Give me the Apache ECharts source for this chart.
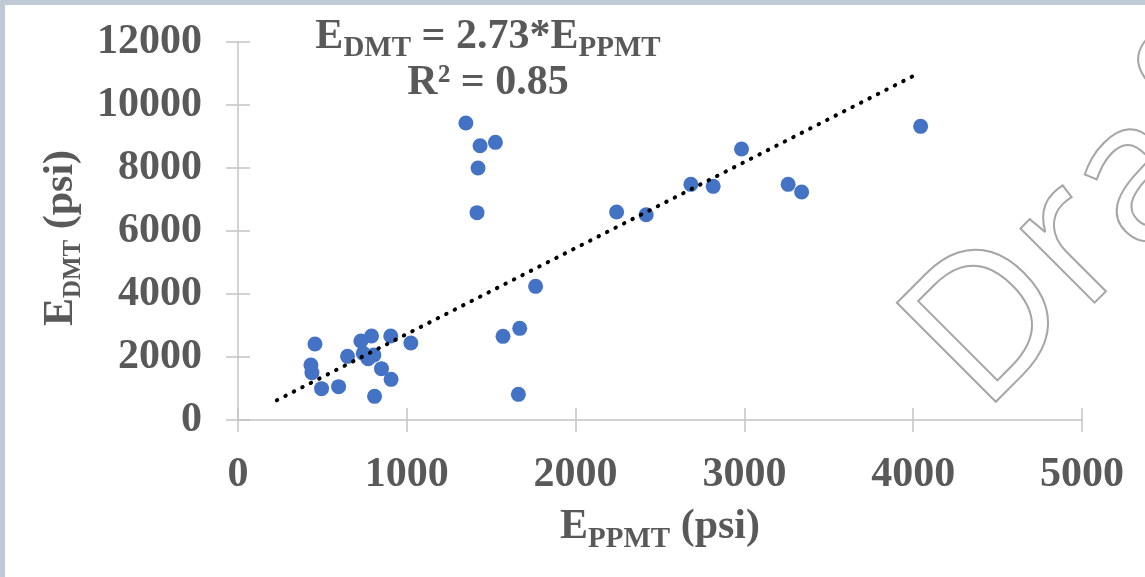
<!DOCTYPE html>
<html><head><meta charset="utf-8">
<script src="https://cdn.jsdelivr.net/npm/echarts@6/dist/echarts.min.js"></script>
<style>
html,body{margin:0;padding:0;background:#bfcad6;}
#bg{position:absolute;left:5px;top:5px;width:1140px;height:572px;background:#ffffff;}
#c{position:absolute;left:0;top:0;width:1145px;height:577px;}
</style>
</head><body>
<div id="bg"></div>
<div id="c"></div>
<script>
// ---- data ----
const eppmt = [1350, 1434, 1525, 1422, 1416, 2243, 1763, 1669, 1570, 1661, 1024, 905, 791, 728, 456, 649, 742, 805, 771, 432, 438, 850, 907, 495, 596, 809, 4044, 2983, 2683, 2815, 3259, 3339, 2418];
const edmt  = [9430, 8708, 8815, 8000, 6582, 6603, 4243, 2910, 2656, 815, 2444, 2667, 2667, 2508, 2413, 2021, 2116, 2063, 1947, 1746, 1503, 1630, 1291, 995, 1058, 751, 9323, 8603, 7481, 7418, 7481, 7238, 6518];
const trendSlope = 2.73;          // E_DMT = 2.73 * E_PPMT
const trendXRange = [230, 4030];  // extent of the dotted trendline
const xRange = [0, 5000, 1000];
const yRange = [0, 12000, 2000];
const equationLine1 = ['E', 'DMT', ' = 2.73*E', 'PPMT'];
const equationLine2 = 'R² = 0.85';
const xName = ['E', 'PPMT', ' (psi)'];
const yName = ['E', 'DMT', ' (psi)'];
const watermark = 'Draft';

// ---- build ----
const FONT = '"Liberation Serif", "Times New Roman", serif';
const GREY = '#595959';
const pts = eppmt.map((x, i) => [x, edmt[i]]);
const trend = trendXRange.map(x => [x, x * trendSlope]);

const richX = {
  e: { fontFamily: FONT, fontWeight: 'bold', fontSize: 42, color: GREY, lineHeight: 46 },
  s: { fontFamily: FONT, fontWeight: 'bold', fontSize: 29, color: GREY, padding: [24, 0, 0, 0], lineHeight: 32 }
};
const richY = {
  e: { fontFamily: FONT, fontWeight: 'bold', fontSize: 42, color: GREY, lineHeight: 46 },
  s: { fontFamily: FONT, fontWeight: 'bold', fontSize: 25, color: GREY, padding: [24, 0, 0, 0], lineHeight: 28 }
};
const grichE = { fontFamily: FONT, fontWeight: 'bold', fontSize: 42, fill: GREY, lineHeight: 46 };
const grichS = { fontFamily: FONT, fontWeight: 'bold', fontSize: 29, fill: GREY, padding: [24, 0, 0, 0], lineHeight: 32 };

const axisLine = { show: true, lineStyle: { color: '#c4c4c4', width: 1.5 } };
const tickStyle = { color: '#c4c4c4', width: 1.5 };
const labelStyle = { fontFamily: FONT, fontWeight: 'bold', fontSize: 42, color: GREY };

const chart = echarts.init(document.getElementById('c'), null, { renderer: 'canvas' });
chart.setOption({
  animation: false,
  grid: { left: 238, right: 63, top: 42, bottom: 157 },
  xAxis: [
    {
      type: 'value', min: xRange[0], max: xRange[1], interval: xRange[2],
      axisLine: axisLine, splitLine: { show: false },
      axisTick: { show: true, inside: false, length: 12, lineStyle: tickStyle },
      axisLabel: Object.assign({ margin: 34, formatter: v => String(v) }, labelStyle),
      name: '{e|' + xName[0] + '}{s|' + xName[1] + '}{e|' + xName[2] + '}',
      nameLocation: 'middle', nameGap: 84,
      nameTextStyle: { rich: richX }
    },
    {
      type: 'value', position: 'bottom', min: xRange[0], max: xRange[1], interval: xRange[2],
      axisLine: { show: false }, splitLine: { show: false }, axisLabel: { show: false },
      axisTick: { show: true, inside: true, length: 12, lineStyle: tickStyle }
    }
  ],
  yAxis: [
    {
      type: 'value', min: yRange[0], max: yRange[1], interval: yRange[2],
      axisLine: axisLine, splitLine: { show: false },
      axisTick: { show: true, inside: false, length: 12, lineStyle: tickStyle },
      axisLabel: Object.assign({ margin: 36, formatter: v => String(v) }, labelStyle),
      name: '{e|' + yName[0] + '}{s|' + yName[1] + '}{e|' + yName[2] + '}',
      nameLocation: 'middle', nameGap: 141, nameRotate: 90,
      nameTextStyle: { rich: richY, padding: [0, 14, 0, 0] }
    },
    {
      type: 'value', position: 'left', min: yRange[0], max: yRange[1], interval: yRange[2],
      axisLine: { show: false }, splitLine: { show: false }, axisLabel: { show: false },
      axisTick: { show: true, inside: true, length: 12, lineStyle: tickStyle }
    }
  ],
  series: [
    {
      type: 'scatter', xAxisIndex: 0, yAxisIndex: 0, data: pts,
      symbol: 'circle', symbolSize: 15,
      itemStyle: { color: '#4472c4', opacity: 1 }, z: 3
    },
    {
      type: 'line', xAxisIndex: 0, yAxisIndex: 0, data: trend,
      showSymbol: false, symbol: 'none',
      lineStyle: { color: '#000000', width: 4, type: [0.5, 9], cap: 'round' },
      z: 4
    }
  ],
  graphic: [
    {
      type: 'text', x: 488, y: 14, z: 10,
      style: {
        text: '{e|' + equationLine1[0] + '}{s|' + equationLine1[1] + '}{e|' + equationLine1[2] + '}{s|' + equationLine1[3] + '}\n{e|' + equationLine2 + '}',
        rich: { e: grichE, s: grichS },
        align: 'center', verticalAlign: 'top', fill: GREY
      }
    },
    {
      type: 'text', x: 1012, y: 445, rotation: Math.PI / 4, z: 1, silent: true,
      style: {
        text: watermark,
        font: '196px "Open Sans", "Liberation Sans", sans-serif',
        fill: 'rgba(0,0,0,0)', stroke: '#a6a6a6', lineWidth: 2,
        align: 'left', verticalAlign: 'bottom'
      }
    }
  ]
});
</script>
</body></html>
